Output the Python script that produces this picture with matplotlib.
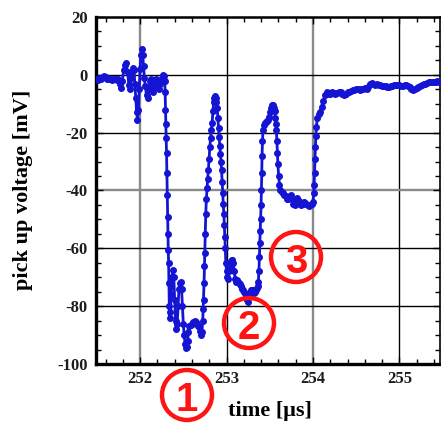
import matplotlib
matplotlib.use("Agg")
import matplotlib.pyplot as plt
from matplotlib.patches import Circle
from matplotlib.ticker import MultipleLocator

# pick-up trace: time [us], voltage [mV]
time_us = [
    251.49, 251.51, 251.53, 251.55, 251.57, 251.585, 251.60, 251.62, 251.64, 251.66,
    251.68, 251.70, 251.72, 251.735, 251.75, 251.765, 251.78, 251.795, 251.81, 251.825,
    251.84, 251.855, 251.87, 251.885, 251.90, 251.915, 251.93, 251.94, 251.95, 251.96,
    251.97, 251.98, 251.99, 252.00, 252.01, 252.02, 252.03, 252.04, 252.05, 252.06,
    252.075, 252.09, 252.10, 252.115, 252.13, 252.14, 252.15, 252.165, 252.18, 252.195,
    252.21, 252.22, 252.235, 252.25, 252.265, 252.275, 252.285,
    252.29, 252.294, 252.298, 252.302, 252.306, 252.31, 252.314, 252.318, 252.322, 252.326,
    252.33, 252.334, 252.338, 252.343,
    252.35, 252.36, 252.37, 252.38, 252.39, 252.40, 252.41, 252.42, 252.43, 252.44,
    252.45, 252.46, 252.47, 252.48, 252.49, 252.50, 252.51, 252.52, 252.53, 252.54,
    252.55, 252.56, 252.57, 252.585, 252.60, 252.615, 252.63, 252.645, 252.66, 252.675,
    252.69, 252.705, 252.715,
    252.725, 252.73, 252.735, 252.74, 252.745, 252.75, 252.755, 252.76, 252.767, 252.775,
    252.782, 252.79, 252.798, 252.807, 252.815, 252.825, 252.834, 252.843, 252.852, 252.86,
    252.867, 252.875, 252.883, 252.892, 252.90, 252.908, 252.915, 252.922, 252.93, 252.937,
    252.943, 252.95, 252.956, 252.962, 252.969, 252.975, 252.98, 252.986, 252.992, 253.00,
    253.008, 253.018, 253.028, 253.038, 253.048, 253.058, 253.068, 253.078, 253.09, 253.10,
    253.11, 253.12, 253.13, 253.142, 253.155, 253.168, 253.18, 253.19, 253.20, 253.21,
    253.22, 253.23, 253.24, 253.25, 253.26, 253.27, 253.28, 253.29, 253.30, 253.31,
    253.32, 253.33, 253.34, 253.35, 253.36, 253.368, 253.375, 253.38, 253.385, 253.39,
    253.395, 253.40, 253.404, 253.408, 253.411, 253.416, 253.422, 253.43, 253.442, 253.455,
    253.468, 253.48, 253.493, 253.507, 253.518, 253.53, 253.54, 253.55, 253.557, 253.565,
    253.572, 253.577, 253.583, 253.588, 253.595, 253.603,
    253.613, 253.623, 253.64, 253.655, 253.67, 253.685, 253.70, 253.715, 253.73, 253.745,
    253.76, 253.775, 253.79, 253.805, 253.82, 253.835, 253.85, 253.865, 253.88, 253.895,
    253.91, 253.925, 253.94, 253.955, 253.97, 253.985, 254.00,
    254.01, 254.014, 254.018, 254.023, 254.028, 254.034, 254.04, 254.05, 254.065, 254.08,
    254.10, 254.12, 254.14, 254.16, 254.18, 254.20, 254.22, 254.24, 254.26, 254.28,
    254.30, 254.32, 254.34, 254.36, 254.38, 254.40, 254.42, 254.44, 254.46, 254.48,
    254.50, 254.52, 254.54, 254.56, 254.58, 254.60, 254.62, 254.64, 254.66, 254.68,
    254.70, 254.72, 254.74, 254.76, 254.78, 254.80, 254.82, 254.84, 254.86, 254.88,
    254.90, 254.92, 254.94, 254.96, 254.98, 255.00, 255.02, 255.04, 255.06, 255.08,
    255.10, 255.12, 255.14, 255.16, 255.18, 255.20, 255.22, 255.24, 255.26, 255.28,
    255.30, 255.32, 255.34, 255.36, 255.38, 255.40, 255.42, 255.44, 255.46,
]
voltage_mV = [
    -1.5, -1.8, -1.2, -1.6, -0.8, -0.3, -0.8, -1.5, -1.6, -1.4,
    -1.7, -1.5, -1.6, -1.8, -1.5, -3.0, -4.5, -2.0, 1.5, 3.5,
    4.0, 1.0, -3.5, -5.0, -1.0, 2.5, 1.5, -3.0, -8.0, -13.0,
    -15.5, -12.0, -5.0, 2.0, 7.0, 9.0, 7.0, 3.0, -1.0, -4.0,
    -7.0, -8.0, -5.0, -2.0, -1.5, -4.0, -6.0, -4.0, -1.5, -2.5,
    -4.5, -5.0, -3.0, -1.0, 0.0, -0.5, -2.0,
    -6, -12, -17, -22, -27, -34, -41.5, -49, -55, -60.5,
    -65, -72, -80, -84,
    -82, -76, -70, -67.5, -70, -78, -85, -88, -86, -80,
    -74, -72, -71.5, -74, -80, -86, -90, -93, -94.5, -94,
    -92, -89, -87, -86.5, -86, -85.5, -85.3, -85.5, -86, -87,
    -88.5, -90, -89,
    -85, -81, -78, -72, -66, -61.5, -55, -48, -43, -39,
    -36, -33, -29, -25, -22, -19, -16.5, -12.5, -9.5, -8,
    -7.3, -8, -9.5, -11.5, -15, -18.5, -21.5, -24.5, -27.5, -30,
    -33, -37, -41, -44.5, -48, -52, -56, -60, -65, -68,
    -70, -70.5, -68, -66, -64.5, -64, -64.2, -65, -68, -70.5,
    -71.5, -71, -71.5, -72, -72.5, -73, -74, -74.5, -75, -75.5,
    -76.5, -77, -78, -78.5, -77, -75.5, -74.5, -74.5, -74.5, -75,
    -75.5, -75, -74.5, -73.8, -73, -71.5, -68, -63, -58, -54,
    -50, -45, -40, -34, -28, -23, -19, -17.5, -16.6, -16.3,
    -16, -15.6, -14.5, -13, -11.5, -10.4, -10.5, -11.5, -12.5, -15,
    -17, -19, -23, -27, -31, -35,
    -38, -40, -40.5, -41, -41.5, -42, -43, -43, -42, -41.5,
    -43, -44.5, -45, -44, -42.6, -43.5, -44.5, -45, -44.5, -44,
    -44.3, -44.5, -45, -45.2, -45, -44.5, -44,
    -41, -38, -34, -29, -25, -21, -18, -15, -13.5, -13,
    -11, -9, -7, -6, -6.5, -6.5, -6, -6.3, -6.8, -6.2,
    -5.8, -6, -6.5, -7, -6.5, -6, -5.8, -5.5, -5.3, -5.2,
    -5, -5, -5.2, -4.8, -4.8, -4.5, -4.8, -4.3, -3.2, -2.8,
    -3.2, -3.5, -3.3, -3.4, -3.5, -3.8, -4, -4, -4.2, -4.2,
    -4, -3.8, -3.6, -3.5, -3.5, -3.5, -3.7, -3.8, -3.6, -3.6,
    -3.8, -4.2, -4.8, -5.2, -5, -4.5, -4.2, -3.8, -3.5, -3.3,
    -3, -2.8, -2.6, -2.5, -2.5, -2.4, -2.4, -2.3, -2.4,
]

x_major = [252, 253, 254, 255]
y_major = [20, 0, -20, -40, -60, -80, -100]
x_grid_colors = ["#8a8a8a", "black", "#8a8a8a", "black"]
y_grid = [0, -20, -40, -60, -80]
y_grid_colors = ["black", "black", "#8a8a8a", "black", "black"]

# circled markers: label, centre in pixels (from top-left)
markers = [("1", 187, 395), ("2", 249, 323), ("3", 296, 257)]

plt.rcParams["font.family"] = "Liberation Serif"
plt.rcParams["axes.unicode_minus"] = False

W, H = 441, 424
fig = plt.figure(figsize=(W / 100, H / 100), dpi=100)
ax = fig.add_axes([96 / W, 1 - 364 / H, 344 / W, 347 / H])

for x, c in zip(x_major, x_grid_colors):
    ax.axvline(x, color=c, lw=1.7 if c != "black" else 1.0, zorder=1)
for y, c in zip(y_grid, y_grid_colors):
    ax.axhline(y, color=c, lw=1.7 if c != "black" else 1.0, zorder=1)

ax.plot(time_us, voltage_mV, "-o", color="#1414d2", lw=2.0, ms=4.0,
        mec="#1414d2", zorder=3)

ax.set_xlim(251.49, 255.47)
ax.set_ylim(-100, 20)
ax.set_xticks(x_major)
ax.set_yticks(y_major)
ax.xaxis.set_minor_locator(MultipleLocator(0.2))
ax.yaxis.set_minor_locator(MultipleLocator(5))
ax.tick_params(which="both", direction="in", top=True, right=True,
               colors="black", labelsize=12)
ax.tick_params(which="major", length=5, width=1)
ax.tick_params(which="minor", length=3.5, width=1)
ax.tick_params(axis="y", pad=6)
ax.tick_params(axis="x", pad=5)
for lab in ax.get_xticklabels() + ax.get_yticklabels():
    lab.set_fontweight("bold")
    lab.set_color("#1c1c1c")

ax.spines["left"].set_linewidth(2.4)
ax.spines["bottom"].set_linewidth(2.4)
ax.spines["top"].set_linewidth(1.8)
ax.spines["right"].set_linewidth(1.2)

fig.text(23 / W, 1 - 190 / H, "pick up voltage [mV]", rotation=90,
         ha="center", va="center", fontsize=16, fontweight="bold")
fig.text(270 / W, 1 - 411 / H, "time [\u03bcs]",
         ha="center", va="center", fontsize=16, fontweight="bold")

red = "#ff1414"
for label, cx, cy in markers:
    fig.add_artist(Circle((cx / 100, (H - cy) / 100), 0.25,
                          transform=fig.dpi_scale_trans, fill=False,
                          ec=red, lw=3.2))
    fig.text(cx / W, 1 - (cy + 1) / H, label, ha="center", va="center_baseline",
             fontsize=29, fontweight="bold", color=red,
             family="Liberation Sans")

fig.savefig("out.png", dpi=100)
